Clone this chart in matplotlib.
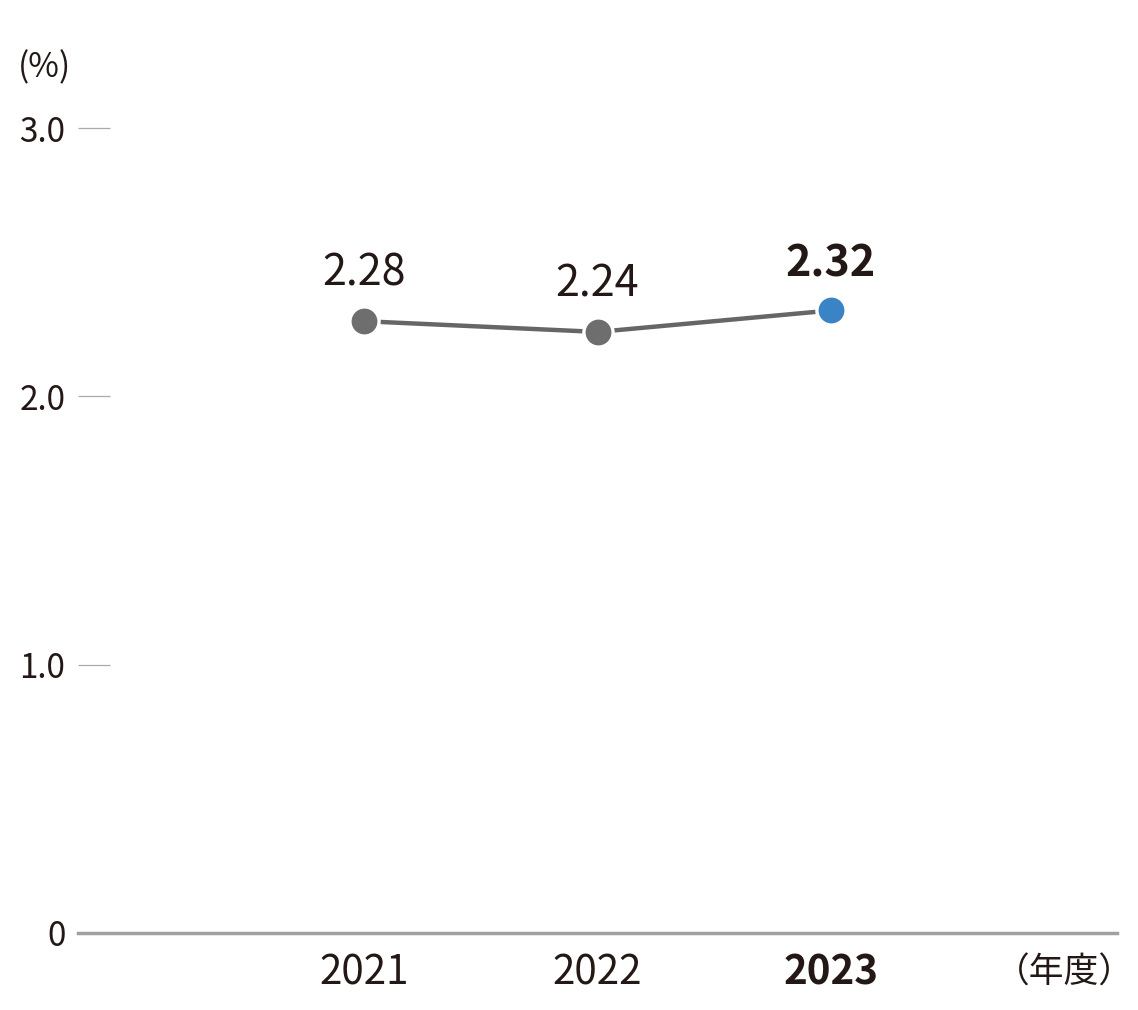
import matplotlib
matplotlib.use("Agg")
import matplotlib.pyplot as plt

plt.rcParams['font.family'] = ['Noto Sans CJK JP', 'DejaVu Sans']

years = ["2021", "2022", "2023"]
values = [2.28, 2.24, 2.32]
value_labels = ["2.28", "2.24", "2.32"]
y_ticks = [0, 1.0, 2.0, 3.0]
y_tick_labels = ["0", "1.0", "2.0", "3.0"]
unit_y = "(%)"
unit_x = "（年度）"

gray = "#6e6e6e"
blue = "#3a84c5"
text_c = "#231815"

fig = plt.figure(figsize=(11.38, 10.10), dpi=100)
ax = fig.add_axes([78/1138, 77/1010, (1117-78)/1138, (933-128)/1010])

x = list(range(len(years)))
ax.plot(x, values, color="#666666", lw=3.2, zorder=2, solid_capstyle="butt")
colors = [gray, gray, blue]
for xi, v, c, lab in zip(x, values, colors, value_labels):
    ax.plot([xi], [v], marker="o", ms=21, color=c, mec="white", mew=2.4, zorder=3)
    bold = (xi == len(years) - 1)
    ax.annotate(lab, (xi, v), xytext=(0, 34), textcoords="offset points",
                ha="center", va="center", fontsize=31, color=text_c,
                fontweight="bold" if bold else "normal")

ax.set_xlim(-1.225, 3.225)
ax.set_ylim(0, 3.0)

for s in ["top", "right", "left"]:
    ax.spines[s].set_visible(False)
ax.spines["bottom"].set_color("#a0a0a0")
ax.spines["bottom"].set_linewidth(2.5)

ax.set_yticks(y_ticks)
ax.set_yticklabels(y_tick_labels, fontsize=24, color=text_c)
ax.tick_params(axis="y", direction="in", length=23, width=0.9, color="#aaaaaa", pad=9)
ax.yaxis.get_major_ticks()[0].tick1line.set_visible(False)

ax.set_xticks(x)
ax.set_xticklabels([])
ax.tick_params(axis="x", length=0)
for xi, yr in zip(x, years):
    bold = (xi == len(years) - 1)
    ax.annotate(yr, (xi, 0), xytext=(0, -29), textcoords="offset points",
                ha="center", va="center", fontsize=29, color=text_c,
                fontweight="bold" if bold else "normal", annotation_clip=False)

ax.annotate(unit_x, (3.0, 0), xytext=(0, -29), textcoords="offset points",
            ha="center", va="center", fontsize=25, color=text_c, annotation_clip=False)
fig.text(18/1138, 1 - 68/1010, unit_y, ha="left", va="center", fontsize=24, color=text_c)

fig.savefig("out.png", dpi=100, facecolor="white")
